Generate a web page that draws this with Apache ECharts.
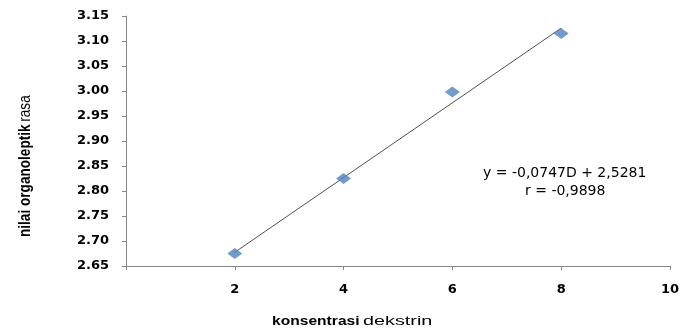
<!DOCTYPE html>
<html>
<head>
<meta charset="utf-8">
<script src="https://cdn.jsdelivr.net/npm/echarts@6/dist/echarts.min.js"></script>
<style>
  html, body { margin: 0; padding: 0; background: #fff; }
  #chart { width: 682px; height: 335px; }
</style>
</head>
<body>
<div id="chart"></div>
<script>
// Dextrin concentration vs. organoleptic taste score
const konsentrasi = [2, 4, 6, 8];
const nilaiRasa = [2.675, 2.825, 2.998, 3.115];

// Fitted trend line (slope and intercept from the regression)
const trendSlope = 0.0747;
const trendIntercept = 2.5281;
const trendX = [2, 8];

const yTicks = ['2.65', '2.70', '2.75', '2.80', '2.85', '2.90', '2.95', '3.00', '3.05', '3.10', '3.15'];
const xTicks = [2, 4, 6, 8, 10];

const equationText = 'y = -0,0747D + 2,5281';
const rText = 'r = -0,9898';

const trendData = trendX.map(x => [x, trendSlope * x + trendIntercept]);
const points = konsentrasi.map((x, i) => [x, nilaiRasa[i]]);

const chart = echarts.init(document.getElementById('chart'), null, { renderer: 'canvas' });
const tickFont = 'DejaVu Sans, sans-serif';
const textFont = 'Liberation Sans, Arial, sans-serif';

chart.setOption({
  animation: false,
  backgroundColor: '#ffffff',
  grid: { left: 126, right: 11, top: 16, bottom: 69, containLabel: false },
  xAxis: {
    type: 'value',
    min: 0,
    max: 10,
    interval: 2,
    axisLine: { show: true, lineStyle: { color: '#868686', width: 1 } },
    axisTick: { show: true, length: 4, lineStyle: { color: '#868686' } },
    splitLine: { show: false },
    axisLabel: {
      margin: 17,
      color: '#000',
      fontFamily: tickFont,
      fontWeight: 'bold',
      fontSize: 13,
      formatter: v => (xTicks.includes(v) ? String(v) : '')
    }
  },
  yAxis: {
    type: 'value',
    min: 2.65,
    max: 3.15,
    interval: 0.05,
    axisLine: { show: true, lineStyle: { color: '#868686', width: 1 } },
    axisTick: { show: true, length: 4, lineStyle: { color: '#868686' } },
    splitLine: { show: false },
    axisLabel: {
      margin: 17,
      color: '#000',
      fontFamily: tickFont,
      fontWeight: 'bold',
      fontSize: 13,
      formatter: v => {
        const s = v.toFixed(2);
        return yTicks.includes(s) ? s : '';
      }
    }
  },
  series: [
    {
      name: 'trend',
      type: 'line',
      data: trendData,
      symbol: 'none',
      lineStyle: { color: '#505050', width: 1 },
      z: 1
    },
    {
      name: 'rasa',
      type: 'scatter',
      data: points,
      symbol: 'diamond',
      symbolSize: [15, 11],
      itemStyle: { color: '#4F81BD' },
      z: 2
    }
  ],
  graphic: [
    {
      type: 'text',
      x: 483,
      y: 173,
      style: { text: equationText, fontFamily: tickFont, fontSize: 14, fill: '#000', verticalAlign: 'middle' }
    },
    {
      type: 'text',
      x: 525,
      y: 191,
      style: { text: rText, fontFamily: tickFont, fontSize: 14, fill: '#000', verticalAlign: 'middle' }
    },
    {
      type: 'text',
      x: 17,
      y: 237,
      rotation: Math.PI / 2,
      scaleX: 0.8,
      style: {
        text: '{b|nilai organoleptik} {n|rasa}',
        verticalAlign: 'top',
        rich: {
          b: { fontFamily: textFont, fontWeight: 'bold', fontSize: 17, fill: '#000' },
          n: { fontFamily: textFont, fontSize: 17, fill: '#000' }
        }
      }
    },
    {
      type: 'text',
      x: 272,
      y: 322,
      scaleX: 1.3,
      style: {
        text: 'konsentrasi',
        fontFamily: textFont,
        fontWeight: 'bold',
        fontSize: 12,
        fill: '#000',
        verticalAlign: 'middle'
      }
    },
    {
      type: 'text',
      x: 363,
      y: 322,
      scaleX: 1.65,
      style: {
        text: 'dekstrin',
        fontFamily: textFont,
        fontSize: 12,
        fill: '#000',
        verticalAlign: 'middle'
      }
    }
  ]
});
</script>
</body>
</html>
